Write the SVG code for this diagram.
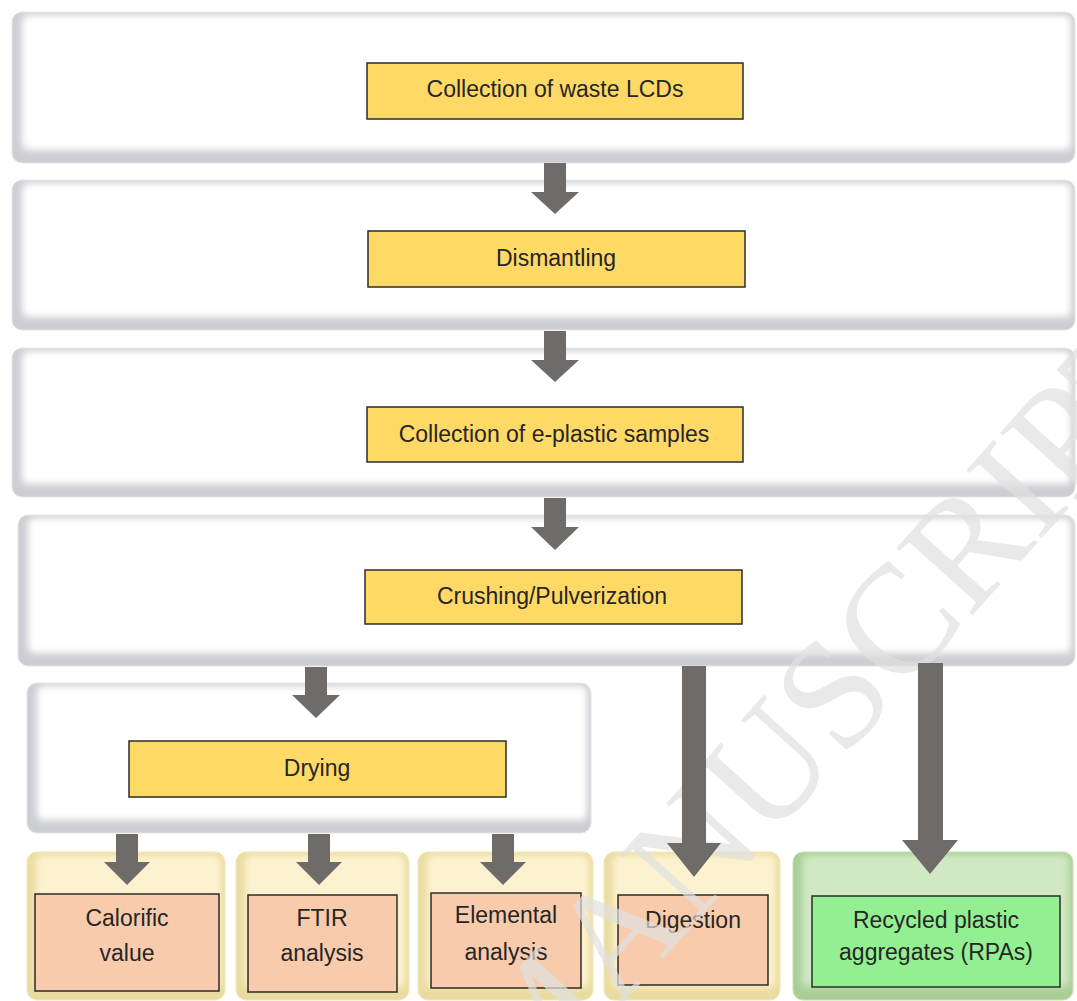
<svg xmlns="http://www.w3.org/2000/svg" width="1077" height="1001" viewBox="0 0 1077 1001">
<style>
.lbl{font-family:"Liberation Sans",Arial,sans-serif;font-size:23px;fill:#262626;text-anchor:middle}
.ybox{fill:#ffd966;stroke:#2b2b2b;stroke-width:1.5}
.obox{fill:#f8cbad;stroke:#2b2b2b;stroke-width:1.5}
.gbox{fill:#92f092;stroke:#2b2b2b;stroke-width:1.5}
.pw-out{fill:#cdced3;stroke:#e4e4e6;stroke-width:1}
.pw-in{fill:#ffffff;filter:url(#soft)}
.py-out{fill:#eadca0;stroke:#f1e7c0;stroke-width:1}
.py-in{fill:#fcf2cf;filter:url(#soft)}
.pg-out{fill:#a9cf95;stroke:#c4e0b4;stroke-width:1}
.pg-in{fill:#d0e8c3;filter:url(#soft)}
.arrow{fill:#6e6b69}
.wm{font-family:"Liberation Serif","Times New Roman",serif;font-size:155px;fill:#e0e0e0;fill-opacity:0.7}
</style>
<defs>
<filter id="soft" x="-5%" y="-10%" width="110%" height="120%"><feGaussianBlur stdDeviation="3.5"/></filter>
</defs>
<rect width="1077" height="1001" fill="#ffffff"/>

<g id="panel-collection">
<rect class="pw-out" x="12" y="12" width="1063" height="151" rx="10"/>
<rect class="pw-in" x="22" y="15" width="1049" height="135" rx="6"/>
<rect class="ybox" x="367" y="63" width="376" height="56"/>
<text class="lbl" x="555" y="97">Collection of waste LCDs</text>
</g>

<g id="panel-dismantling">
<rect class="pw-out" x="12" y="180" width="1063" height="150" rx="10"/>
<rect class="pw-in" x="22" y="183" width="1049" height="134" rx="6"/>
<rect class="ybox" x="368" y="231" width="377" height="56"/>
<text class="lbl" x="556" y="266">Dismantling</text>
</g>

<g id="panel-eplastic">
<rect class="pw-out" x="12" y="348" width="1063" height="149" rx="10"/>
<rect class="pw-in" x="22" y="351" width="1049" height="133" rx="6"/>
<rect class="ybox" x="367" y="407" width="376" height="55"/>
<text class="lbl" x="554" y="442">Collection of e-plastic samples</text>
</g>

<g id="panel-crushing">
<rect class="pw-out" x="18" y="515" width="1057" height="151" rx="10"/>
<rect class="pw-in" x="28" y="518" width="1043" height="135" rx="6"/>
<rect class="ybox" x="365" y="570" width="377" height="54"/>
<text class="lbl" x="552" y="604">Crushing/Pulverization</text>
</g>

<g id="panel-drying">
<rect class="pw-out" x="27" y="683" width="564" height="150" rx="10"/>
<rect class="pw-in" x="37" y="686" width="550" height="134" rx="6"/>
<rect class="ybox" x="129" y="741" width="377" height="56"/>
<text class="lbl" x="317" y="776">Drying</text>
</g>

<g id="panel-calorific">
<rect class="py-out" x="27" y="852" width="198" height="148" rx="10"/>
<rect class="py-in" x="36" y="855" width="185" height="132" rx="6"/>
<rect class="obox" x="35" y="894" width="184" height="97"/>
<text class="lbl" x="127" y="926">Calorific</text>
<text class="lbl" x="127" y="961">value</text>
</g>

<g id="panel-ftir">
<rect class="py-out" x="236" y="852" width="173" height="148" rx="10"/>
<rect class="py-in" x="245" y="855" width="160" height="132" rx="6"/>
<rect class="obox" x="248" y="895" width="149" height="97"/>
<text class="lbl" x="322" y="926">FTIR</text>
<text class="lbl" x="322" y="961">analysis</text>
</g>

<g id="panel-elemental">
<rect class="py-out" x="418" y="852" width="175" height="148" rx="10"/>
<rect class="py-in" x="427" y="855" width="162" height="132" rx="6"/>
<rect class="obox" x="431" y="893" width="150" height="95"/>
<text class="lbl" x="506" y="923">Elemental</text>
<text class="lbl" x="506" y="960">analysis</text>
</g>

<g id="panel-digestion">
<rect class="py-out" x="604" y="852" width="176" height="148" rx="10"/>
<rect class="py-in" x="613" y="855" width="163" height="132" rx="6"/>
<rect class="obox" x="618" y="895" width="150" height="90"/>
<text class="lbl" x="693" y="928">Digestion</text>
</g>

<g id="panel-rpa">
<rect class="pg-out" x="793" y="852" width="280" height="148" rx="10"/>
<rect class="pg-in" x="802" y="855" width="267" height="132" rx="6"/>
<rect class="gbox" x="812" y="896" width="248" height="91"/>
<text class="lbl" x="936" y="928">Recycled plastic</text>
<text class="lbl" x="936" y="960">aggregates (RPAs)</text>
</g>

<g id="watermark">
<text class="wm" transform="translate(525,1112) rotate(-48)">MANUSCRIPT</text>
</g>

<g id="connectors">
<polygon class="arrow" points="544,163 566,163 566,192 579,192 555,214 531,192 544,192"/>
<polygon class="arrow" points="544,331 566,331 566,360 579,360 555,382 531,360 544,360"/>
<polygon class="arrow" points="544,498 566,498 566,527 579,527 555,550 531,527 544,527"/>
<polygon class="arrow" points="305,667 327,667 327,695 340,695 316,718 292,695 305,695"/>
<polygon class="arrow" points="116,834 138,834 138,862 150,862 127,885 104,862 116,862"/>
<polygon class="arrow" points="308,834 330,834 330,862 342,862 319,885 296,862 308,862"/>
<polygon class="arrow" points="492,834 514,834 514,862 526,862 503,885 480,862 492,862"/>
<polygon class="arrow" points="682,666 706,666 706,843 721,843 694,877 667,843 682,843"/>
<polygon class="arrow" points="918,663 943,663 943,840 958,840 930,874 902,840 918,840"/>
</g>
</svg>
